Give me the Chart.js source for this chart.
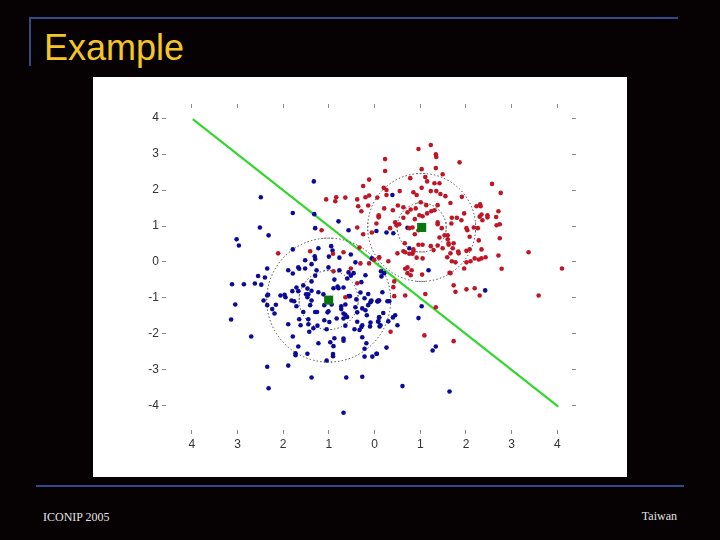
<!DOCTYPE html>
<html>
<head>
<meta charset="utf-8">
<title>Example</title>
<script src="https://cdn.jsdelivr.net/npm/chart.js@4/dist/chart.umd.min.js"></script>
<style>
  html, body { margin: 0; padding: 0; background: #060204; }
  #slide { position: relative; width: 720px; height: 540px; overflow: hidden; background: #060204; }
  .rule { position: absolute; background: #34498a; }
  #title { position: absolute; left: 44px; top: 27px; font: 36px "Liberation Sans", Arial, sans-serif; line-height: 42px; color: #f4c526; }
  #panel { position: absolute; left: 93px; top: 77px; width: 534px; height: 400px; background: #fff; }
  .foot { position: absolute; font: 12px "Liberation Serif", serif; color: #e2e2e2; }
</style>
</head>
<body>
<div id="slide">
  <div class="rule" style="left:29px;top:17px;width:649px;height:2px"></div>
  <div class="rule" style="left:29px;top:17px;width:2px;height:49px"></div>
  <div id="title">Example</div>
  <div id="panel"><canvas id="chart" width="534" height="400"></canvas></div>
  <div class="rule" style="left:36px;top:485px;width:648px;height:2px"></div>
  <div class="foot" style="left:43px;top:510px">ICONIP 2005</div>
  <div class="foot" style="right:43px;top:509px">Taiwan</div>
</div>
<script>
var tickValues = [-4, -3, -2, -1, 0, 1, 2, 3, 4];

var redX = [-0.12,-0.25,-1.06,-0.84,-0.86,-0.64,-0.38,-0.20,-0.12,0.06,-0.36,-0.14,-0.29,0.09,0.04,-0.38,-0.06,-0.25,-1.16,-0.33,-2.11,-1.41,-0.91,-0.68,-0.01,0.10,-0.31,-0.12,-0.52,-0.90,
  0.96,1.23,1.34,1.35,0.23,1.86,0.23,1.03,1.34,1.49,0.78,1.11,1.15,1.31,1.42,2.57,1.03,0.20,0.26,0.26,0.55,0.85,0.92,1.23,1.35,1.44,1.55,1.91,2.76,1.66,1.01,1.13,1.38,0.51,0.63,0.90,0.79,0.72,0.40,0.21,0.09,0.09,1.31,1.24,1.15,0.98,1.05,0.63,0.88,0.45,0.48,0.54,0.76,0.83,0.34,0.96,0.88,1.38,1.38,1.47,1.69,1.80,1.90,1.68,1.96,2.23,2.31,2.32,2.34,2.30,2.47,2.47,2.36,2.71,2.66,2.67,2.74,2.01,2.03,2.17,2.26,2.08,2.28,2.74,1.42,1.53,1.60,1.60,1.62,1.62,1.73,0.66,0.96,1.05,1.23,1.29,1.38,1.49,1.71,1.66,1.59,1.83,1.84,2.01,2.08,2.34,3.37,2.71,2.43,2.34,2.28,2.19,2.10,2.01,1.69,1.77,0.63,0.67,0.76,0.83,0.85,0.85,0.92,1.05,0.50,0.30,0.10,0.67,0.72,0.81,1.04,1.66,1.96,2.78,4.10,
  -0.38,-0.64,0.43,0.41,0.43,0.67,1.11,1.34,0.35,1.09,1.73,1.73,1.77,2.01,2.19,2.30,3.59,0.79,0.72,1.64];
var redY = [2.29,2.11,1.74,1.80,1.69,1.79,1.74,1.80,1.85,1.79,1.55,1.57,1.41,1.27,1.07,0.96,0.82,0.77,0.88,0.40,0.24,0.30,0.23,0.27,0.06,0.12,-0.04,-0.04,-0.18,-0.26,
  3.14,3.25,2.99,2.92,2.86,2.77,2.53,2.58,2.61,2.44,2.33,2.36,2.24,2.19,2.19,2.17,2.06,2.06,2.00,1.86,1.97,1.94,1.86,1.97,1.97,1.89,1.83,1.81,1.92,1.64,1.66,1.58,1.58,1.57,1.52,1.49,1.46,1.38,1.44,1.49,1.30,1.24,1.44,1.41,1.35,1.30,1.27,1.23,1.19,1.10,1.02,1.05,0.94,0.96,0.94,0.88,0.77,1.10,1.05,0.94,1.23,1.23,1.16,1.07,1.35,1.55,1.60,1.55,1.32,1.26,1.30,1.24,1.16,1.41,1.25,1.02,1.05,0.94,0.88,0.96,0.94,0.70,0.60,0.66,0.68,0.74,0.74,0.63,0.52,0.48,0.52,0.52,0.48,0.48,0.44,0.33,0.46,0.38,0.38,0.24,0.13,0.29,0.24,0.31,0.35,0.35,0.27,0.18,0.13,0.10,0.07,0.10,0.02,-0.01,0.02,-0.01,0.30,0.27,0.23,0.23,0.35,0.29,0.12,0.10,0.24,0.02,0.13,-0.19,-0.15,-0.23,-0.35,-0.31,-0.18,-0.19,-0.18,
  -0.59,-0.98,-0.54,-0.70,-0.95,-0.93,-0.89,-1.26,-1.94,-2.04,-2.20,-0.65,-0.83,-0.76,-0.73,-0.93,-0.93,-0.37,-0.31,-0.30];

var blueX = [-1.33,-2.49,-1.79,-1.32,-0.79,-2.51,-1.30,-0.57,-2.32,-3.02,-2.97,-1.79,-1.23,-0.95,-0.92,-1.31,-1.30,-1.00,-0.77,-0.52,-1.52,-0.42,-0.06,-1.38,-2.35,-1.89,-1.67,-1.65,-1.52,-1.01,-0.77,-1.27,-0.57,-0.46,-1.79,0.04,
  0.39,0.26,0.41,0.76,1.18,0.72,0.14,0.21,
  -3.12,-2.86,-2.62,-2.55,-2.40,-2.48,-2.33,-2.35,-2.43,-3.05,-2.35,-2.16,-2.24,-2.19,-3.14,-2.70,-1.30,-1.38,-1.56,-1.71,-1.80,-1.67,-1.47,-1.38,-1.23,-1.12,-2.06,-1.97,-1.95,-1.82,-1.76,-1.71,-1.50,-1.45,-1.47,-1.38,-1.41,-1.56,-1.30,-1.26,-1.65,-1.45,-1.89,-1.62,-1.45,-1.43,-1.34,-1.25,-1.10,-0.94,-1.01,-1.03,-1.10,-0.99,-0.83,-1.05,-0.88,-0.90,-0.81,-0.79,-0.68,-0.52,-0.60,-0.29,-0.20,-0.57,-0.54,-0.31,-0.14,-0.40,-0.22,-0.07,-0.09,0.07,0.10,-0.14,-0.64,-0.73,-0.73,-0.42,-0.27,-0.20,-0.38,-0.68,-0.64,-0.68,-0.60,-0.17,-0.38,-0.64,-0.44,-0.33,-0.29,-0.27,-0.09,-0.10,0.10,0.08,0.11,-0.27,-0.18,-0.22,-0.22,-0.05,0.05,-0.88,-0.68,-0.68,-0.97,-0.90,-1.23,-0.91,-0.91,-1.47,-1.67,-1.73,-1.73,-1.79,-1.05,-1.89,-2.35,-1.38,-0.62,-0.27,-2.32,-0.68,
  0.15,0.17,-0.08,0.06,0.08,0.28,0.32,0.19,0.10,0.08,0.13,0.30,0.40,0.45,0.50,1.03,0.96,0.26,0.04,1.27,1.34,0.61,1.64,2.42];
var blueY = [2.24,1.80,1.36,1.33,1.13,0.96,0.94,0.88,0.74,0.63,0.46,0.35,0.38,0.44,0.32,0.16,0.08,0.15,0.12,0.21,0.05,-0.01,0.10,-0.06,-0.18,-0.23,-0.15,-0.19,-0.18,-0.15,-0.23,-0.23,-0.29,-0.31,-0.32,0.86,
  1.86,0.82,0.80,0.38,-0.23,0.95,-0.26,-0.31,
  -0.62,-0.62,-0.60,-0.39,-0.43,-0.63,-0.91,-0.93,-1.07,-1.18,-1.20,-1.19,-1.31,-1.43,-1.60,-2.07,-0.38,-0.54,-0.65,-0.71,-0.81,-0.81,-0.74,-0.80,-0.84,-0.90,-0.93,-0.91,-0.98,-1.07,-1.09,-1.23,-0.90,-0.90,-0.98,-1.07,-1.20,-1.39,-1.39,-1.39,-1.59,-1.59,-1.73,-1.76,-1.73,-1.94,-1.84,-1.77,-1.20,-1.18,-1.37,-1.40,-1.62,-1.67,-1.57,-1.87,-0.49,-0.73,-0.68,-0.73,-0.71,-0.38,-0.46,-0.56,-0.37,-0.95,-0.95,-0.85,-0.89,-1.04,-1.01,-1.07,-1.12,-1.10,-1.07,-1.20,-1.18,-1.23,-1.31,-1.26,-1.29,-1.34,-1.40,-1.43,-1.47,-1.57,-1.53,-1.48,-1.66,-1.77,-1.87,-1.89,-1.81,-1.76,-1.68,-1.79,-1.54,-1.66,-1.79,-2.09,-2.26,-2.41,-2.63,-2.63,-2.55,-2.12,-2.13,-2.19,-2.23,-2.34,-2.26,-2.56,-2.62,-2.55,-2.35,-2.54,-2.59,-2.07,-2.74,-2.88,-2.91,-3.21,-3.21,-3.19,-3.51,-4.19,
  -0.40,-0.84,-1.09,-1.09,-1.07,-1.09,-1.09,-1.42,-1.54,-1.65,-1.76,-1.65,-1.54,-1.48,-1.76,-1.23,-1.56,-2.38,-2.55,-2.46,-2.35,-3.45,-3.60,-0.79];

var centerX = [1.03, -1.005];
var centerY = [0.96, -1.06];

// solid bits where the dotted circles meet their top/bottom and left/right
var capTopX = [1.03, 1.03, 1.03, 1.03, -1.005, -1.005, -1.005, -1.005];
var capTopY = [2.46, -0.54, 1.64, 0.28, 0.66, -2.78, -0.24, -1.88];
var capSideX = [2.21, -0.15, 1.566, 0.494, 0.352, -2.362, -0.36, -1.65];
var capSideY = [0.96, 0.96, 0.96, 0.96, -1.06, -1.06, -1.06, -1.06];

var lineX = [-3.98, 4.02];
var lineY = [3.97, -4.02];

function toPoints(xs, ys) {
  return xs.map(function (x, i) { return { x: x, y: ys[i] }; });
}

// point circles cannot be dashed through options
var dashPlugin = {
  id: 'dashPlugin',
  beforeDatasetDraw: function (chart, args) {
    if (args.meta.controller.getDataset().dotted) {
      chart.ctx.setLineDash([1.4, 2.2]);
    }
  }
};

function setTicks(scale) {
  scale.ticks = tickValues.map(function (v) { return { value: v }; });
}

function axis(position, size, showLabels, min, max, label) {
  return {
    type: 'linear',
    position: position,
    min: min,
    max: max,
    border: { display: false },
    grid: { drawOnChartArea: false, drawTicks: true, tickLength: 4, tickColor: '#8a8a8a', lineWidth: 1 },
    ticks: {
      display: showLabels,
      padding: 3,
      color: '#333',
      font: { family: '"Liberation Sans", sans-serif', size: 12 },
      maxRotation: 0,
      callback: label
    },
    afterBuildTicks: setTicks,
    afterFit: function (scale) {
      if (scale.isHorizontal()) {
        scale.height = size;
      } else {
        scale.width = size;
      }
    }
  };
}

var xMin = -4.565, xMax = 4.32, yMin = -4.67, yMax = 4.28;

new Chart(document.getElementById('chart').getContext('2d'), {
  type: 'scatter',
  plugins: [dashPlugin],
  data: {
    datasets: [
      { label: 'centres', data: toPoints(centerX, centerY), pointStyle: 'rect', pointRadius: 6.4,
        backgroundColor: '#0a7410', borderWidth: 0 },
      { label: 'red', data: toPoints(redX, redY), pointRadius: 2.3, backgroundColor: '#bf1626', borderWidth: 0 },
      { label: 'blue', data: toPoints(blueX, blueY), pointRadius: 2.3, backgroundColor: '#0c0a98', borderWidth: 0 },
      { label: 'capsTop', data: toPoints(capTopX, capTopY), pointStyle: 'line', pointRadius: 5,
        pointBorderColor: '#666', pointBorderWidth: 1 },
      { label: 'capsSide', data: toPoints(capSideX, capSideY), pointStyle: 'line', pointRadius: 5, pointRotation: 90,
        pointBorderColor: '#666', pointBorderWidth: 1 },
      { label: 'inner', dotted: true, data: toPoints(centerX, centerY), pointRadius: [24.5, 29.5],
        backgroundColor: 'transparent', pointBorderColor: '#444', pointBorderWidth: 1 },
      { label: 'outer', dotted: true, data: toPoints(centerX, centerY), pointRadius: [54, 62],
        backgroundColor: 'transparent', pointBorderColor: '#444', pointBorderWidth: 1 },
      { label: 'boundary', data: toPoints(lineX, lineY), showLine: true, pointRadius: 0, borderColor: '#33d62f', borderWidth: 2.2 }
    ]
  },
  options: {
    responsive: false,
    animation: false,
    layout: { padding: 0, autoPadding: false },
    plugins: { legend: { display: false }, tooltip: { enabled: false } },
    scales: {
      x: axis('bottom', 47, true, xMin, xMax, function (v) { return String(Math.abs(v)); }),
      xTop: axis('top', 31, false, xMin, xMax),
      y: axis('left', 73, true, yMin, yMax, function (v) { return String(v); }),
      yRight: axis('right', 55, false, yMin, yMax)
    }
  }
});
</script>
</body>
</html>
